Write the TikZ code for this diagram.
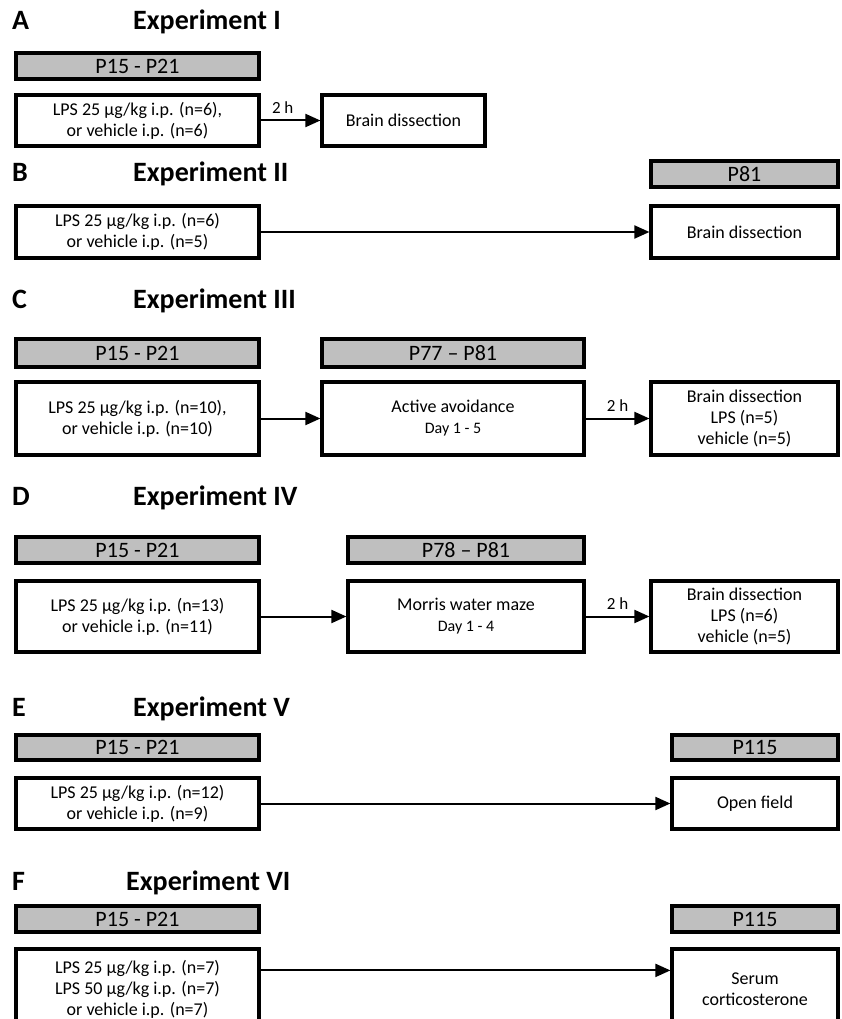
\documentclass[tikz,border=0pt]{standalone}
\usepackage{fontspec}
\setmainfont{Carlito}
\usetikzlibrary{arrows.meta, positioning, calc}
\definecolor{bargray}{RGB}{191,191,191}

\begin{document}
\begin{tikzpicture}[x=1pt, y=-1pt, >={Triangle[length=15pt, width=13pt]},
  panel/.style={anchor=base west, inner sep=0pt, font=\fontsize{28}{30}\selectfont\bfseries},
  age/.style={draw, line width=3.2pt, fill=bargray, inner sep=0pt, minimum height=26pt, font=\fontsize{22}{24}\selectfont},
  stage/.style={draw, line width=3.2pt, fill=white, inner sep=0pt, align=center, font=\fontsize{18}{21}\selectfont},
  hours/.style={font=\fontsize{17}{19}\selectfont, yshift=3pt},
  leftcol/.style={minimum width=243pt},
  rightcol/.style={minimum width=187pt},
  link/.style={->, line width=2pt}]
  \useasboundingbox (0,0) rectangle (842,1019);
  \clip (0,0) rectangle (842,1019);

  % Experiment I
  \node [panel] (labA) at (12,30) {A};
  \node [panel] (titleA) at (133,30) {Experiment I};
  \node [age, leftcol] (ageA) at (137.5,66) {P15 - P21};
  \node [stage, leftcol, minimum height=51pt] (lpsA) at (137.5,120.5)
  {LPS 25 µg/kg i.p. (n=6),\\ or vehicle i.p. (n=6)};
  \node [stage, minimum width=163pt, minimum height=51pt] (brainA) at (403.5,120.5) {Brain dissection};
  \draw [link] (lpsA) -- node [above, pos=0.37, hours] {2 h} (brainA);

  % Experiment II
  \node [panel] (labB) at (12,182) {B};
  \node [panel] (titleB) at (133,182) {Experiment II};
  \node [age, rightcol] (ageB) at (744.5,174) {P81};
  \node [stage, leftcol, minimum height=52pt] (lpsB) at (137.5,232)
  {LPS 25 µg/kg i.p. (n=6)\\ or vehicle i.p. (n=5)};
  \node [stage, rightcol, minimum height=52pt] (brainB) at (744.5,232) {Brain dissection};
  \draw [link] (lpsB) -- (brainB);

  % Experiment III
  \node [panel] (labC) at (12,308) {C};
  \node [panel] (titleC) at (133,308) {Experiment III};
  \node [age, leftcol, minimum height=28pt] (ageC) at (137.5,353) {P15 - P21};
  \node [age, minimum width=262pt, minimum height=28pt] (ageCb) at (453,353) {P77 -- P81};
  \node [stage, leftcol, minimum height=73pt] (lpsC) at (137.5,418.5)
  {LPS 25 µg/kg i.p. (n=10),\\ or vehicle i.p. (n=10)};
  \node [stage, minimum width=262pt, minimum height=73pt] (avoidC) at (453,418.5)
  {Active avoidance\\ {\fontsize{16}{20}\selectfont Day 1 - 5}};
  \node [stage, rightcol, minimum height=73pt] (brainC) at (744.5,418.5)
  {Brain dissection\\ LPS (n=5)\\ vehicle (n=5)};
  \draw [link] (lpsC) -- (avoidC);
  \draw [link] (avoidC) -- node [above, hours] {2 h} (brainC);

  % Experiment IV
  \node [panel] (labD) at (12,505) {D};
  \node [panel] (titleD) at (133,505) {Experiment IV};
  \node [age, leftcol] (ageD) at (137.5,550) {P15 - P21};
  \node [age, minimum width=236pt] (ageDb) at (466,550) {P78 -- P81};
  \node [stage, leftcol, minimum height=71pt] (lpsD) at (137.5,616.5)
  {LPS 25 µg/kg i.p. (n=13)\\ or vehicle i.p. (n=11)};
  \node [stage, minimum width=236pt, minimum height=71pt] (mazeD) at (466,616.5)
  {Morris water maze\\ {\fontsize{16}{20}\selectfont Day 1 - 4}};
  \node [stage, rightcol, minimum height=71pt] (brainD) at (744.5,616.5)
  {Brain dissection\\ LPS (n=6)\\ vehicle (n=5)};
  \draw [link] (lpsD) -- (mazeD);
  \draw [link] (mazeD) -- node [above, hours] {2 h} (brainD);

  % Experiment V
  \node [panel] (labE) at (12,716) {E};
  \node [panel] (titleE) at (133,716) {Experiment V};
  \node [age, leftcol, minimum height=25pt] (ageE) at (137.5,747.5) {P15 - P21};
  \node [age, minimum width=166pt, minimum height=25pt] (ageEb) at (755,747.5) {P115};
  \node [stage, leftcol, minimum height=51pt] (lpsE) at (137.5,803.5)
  {LPS 25 µg/kg i.p. (n=12)\\ or vehicle i.p. (n=9)};
  \node [stage, minimum width=166pt, minimum height=51pt] (fieldE) at (755,803.5) {Open field};
  \draw [link] (lpsE) -- (fieldE);

  % Experiment VI
  \node [panel] (labF) at (12,890) {F};
  \node [panel] (titleF) at (126,890) {Experiment VI};
  \node [age, leftcol] (ageF) at (137.5,919) {P15 - P21};
  \node [age, minimum width=166pt] (ageFb) at (755,919) {P115};
  \node [stage, leftcol, minimum height=80pt] (lpsF) at (137.5,989)
  {LPS 25 µg/kg i.p. (n=7)\\ LPS 50 µg/kg i.p. (n=7)\\ or vehicle i.p. (n=7)};
  \node [stage, minimum width=166pt, minimum height=80pt] (serumF) at (755,989)
  {Serum\\ corticosterone};
  \draw [link] ([yshift=-23pt]lpsF.north east) -- ([yshift=-23pt]serumF.north west);
\end{tikzpicture}
\end{document}
